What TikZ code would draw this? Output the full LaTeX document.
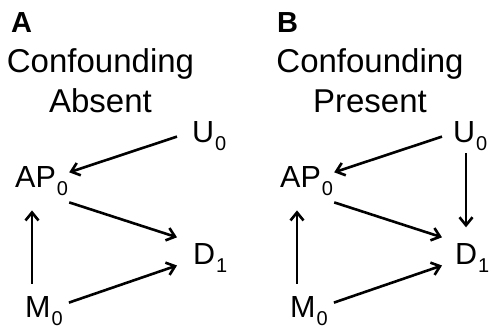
\documentclass[tikz,border=0pt]{standalone}
\usepackage{fontspec}
\setmainfont{Liberation Sans}
\usetikzlibrary{arrows.meta}
\newcommand{\sub}[1]{\hspace{1pt}\raisebox{-8pt}{\fontsize{20}{20}\selectfont #1}}
\tikzset{
  var/.style={font=\fontsize{30.5}{36}\selectfont, inner sep=0pt, anchor=base west},
  head/.style={font=\fontsize{33}{40}\selectfont, align=center, anchor=base, inner sep=0pt},
  panel/.style={font=\bfseries\fontsize{29}{32}\selectfont, inner sep=0pt, anchor=base west},
  arr/.style={-{Straight Barb[length=8pt,width=13pt]}, line width=2.6pt}
}
\begin{document}
\begin{tikzpicture}[x=1pt, y=-1pt]
    \useasboundingbox (0,0) rectangle (492,328);
    
    % panel A
    \node[panel] (A) at (11,33) {A};
    \node[head] (hA) at (100.5,113) {Confounding\\Absent};
    \node[var] (Ua) at (192,143) {U\sub{0}};
    \node[var] (APa) at (15,188) {AP\sub{0}};
    \node[var] (Da) at (193,265) {D\sub{1}};
    \node[var] (Ma) at (25,317) {M\sub{0}};
    
    \draw[arr] ([xshift=-15pt]Ua.west)--([xshift=1pt,yshift=-5.5pt]APa.north east);
    \draw[arr] ([xshift=1pt,yshift=-6pt]APa.south east)--([xshift=-16pt,yshift=6.5pt]Da.north west);
    \draw[arr] ([xshift=6pt,yshift=8pt]Ma.east)--([xshift=-16pt,yshift=-7pt]Da.west);
    \draw[arr] ([xshift=7pt,yshift=12pt]Ma.north west)--([xshift=17pt,yshift=-14pt]APa.south west);
    
    % panel B
    \node[panel] (B) at (277,33) {B};
    \node[head] (hB) at (370,113) {Confounding\\Present};
    \node[var] (Ub) at (453,143) {U\sub{0}};
    \node[var] (APb) at (280,188) {AP\sub{0}};
    \node[var] (Db) at (455,265) {D\sub{1}};
    \node[var] (Mb) at (290,317) {M\sub{0}};
    
    \draw[arr] ([xshift=-11pt]Ub.west)--([xshift=1pt,yshift=-5.5pt]APb.north east);
    \draw[arr] ([xshift=1pt,yshift=-6pt]APb.south east)--([xshift=-13pt,yshift=6.5pt]Db.north west);
    \draw[arr] ([xshift=6pt,yshift=8pt]Mb.east)--([xshift=-13pt,yshift=-7pt]Db.west);
    \draw[arr] ([xshift=7pt,yshift=12pt]Mb.north west)--([xshift=17pt,yshift=-14pt]APb.south west);
    \draw[arr] ([xshift=13pt,yshift=-2pt]Ub.south west)--([xshift=11pt,yshift=16.5pt]Db.north west);
    
\end{tikzpicture}
\end{document}
